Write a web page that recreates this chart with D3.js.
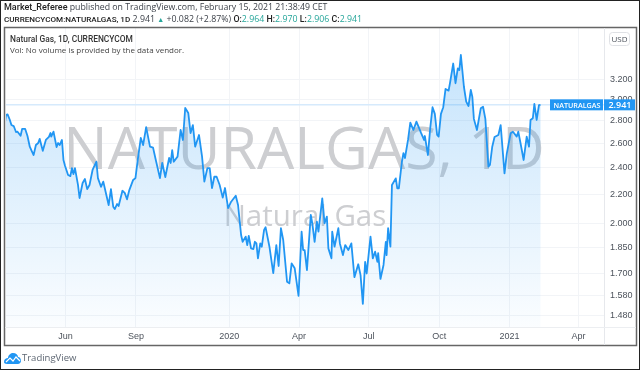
<!DOCTYPE html>
<html>
<head>
<meta charset="utf-8">
<script src="https://cdn.jsdelivr.net/npm/d3@7"></script>
<style>
    html, body { margin: 0; padding: 0; background: #fff; }
    svg { display: block; font-family: "Open Sans", sans-serif; filter: blur(0.4px); }
    .head-bold { font-family: Roboto, sans-serif; font-weight: 500; }
</style>
</head>
<body>
<div id="chart"></div>
<script>
// days since the first bar
const firstBar = '2019-03-14';
const dayOffsets = [0,2,4,7,9,12,15,17,21,23,27,30,33,35,38,41,44,46,48,50,54,58,60,61,64,68,70,72,75,77,79,83,86,88,90,92,96,98,102,105,108,111,115,120,122,126,129,133,136,139,142,144,147,149,154,157,160,163,168,171,174,178,181,185,190,194,197,203,206,210,215,217,219,221,226,230,233,236,240,243,246,249,254,258,261,265,268,271,274,277,281,285,288,292,296,302,305,309,311,315,317,319,322,325,327,329,331,334,336,339,341,346,351,355,358,361,364,369,372,375,379,384,388,390,392,395,400,402,405,408,410,415,418,421,423,427,428,431,436,438,442,445,449,453,457,462,465,468,471,473,478,481,484,487,488,491,495,498,499,501,504,506,511,513,515,519,521,523,527,530,534,538,544,548,549,553,556,559,562,565,567,570,573,576,580,582,586,589,592,594,596,600,603,606,609,611,613,617,622,625,628,632,634,637,640,645,648,653,656,661,664,669,671,674,678,682,685,687,690,692,695,698,700];
const closes = [2.744,2.845,2.851,2.799,2.753,2.744,2.691,2.694,2.659,2.718,2.718,2.656,2.565,2.537,2.496,2.579,2.596,2.631,2.579,2.531,2.622,2.648,2.682,2.651,2.694,2.562,2.596,2.579,2.622,2.456,2.410,2.338,2.330,2.392,2.345,2.392,2.263,2.169,2.278,2.308,2.233,2.263,2.377,2.442,2.315,2.250,2.288,2.190,2.120,2.233,2.108,2.092,2.127,2.113,2.221,2.206,2.160,2.226,2.301,2.315,2.456,2.639,2.579,2.735,2.565,2.557,2.472,2.315,2.432,2.323,2.472,2.432,2.537,2.442,2.483,2.709,2.622,2.911,2.864,2.682,2.753,2.565,2.665,2.483,2.288,2.392,2.392,2.241,2.325,2.325,2.263,2.172,2.241,2.099,2.143,2.185,2.120,1.922,1.880,1.912,1.860,1.916,1.840,1.836,1.880,1.870,1.781,1.870,1.850,1.954,1.971,1.850,1.697,1.860,1.737,1.965,1.891,1.650,1.641,1.752,1.724,1.575,1.943,1.830,1.830,1.714,2.052,1.997,1.880,2.008,1.943,2.167,1.997,2.041,1.840,1.781,1.943,1.850,1.965,1.870,1.800,1.860,1.830,1.870,1.675,1.747,1.686,1.535,1.761,1.695,1.912,1.781,1.820,1.761,1.812,1.665,1.743,1.880,1.800,1.965,1.850,2.263,2.313,2.238,2.238,2.442,2.512,2.472,2.622,2.775,2.709,2.784,2.683,2.622,2.656,2.496,2.726,2.918,2.855,2.665,2.651,2.855,2.918,3.098,3.081,3.166,3.366,3.156,3.313,3.295,3.461,3.120,2.972,2.930,3.087,3.018,2.809,2.709,2.908,2.923,2.809,2.403,2.416,2.565,2.648,2.665,2.753,2.351,2.507,2.680,2.694,2.651,2.694,2.592,2.456,2.651,2.565,2.799,2.815,2.949,2.799,2.939,2.941];

const priceTicks = [3.2, 3.0, 2.8, 2.6, 2.4, 2.2, 2.0, 1.85, 1.7, 1.58, 1.48];
const timeTickDates = ['2019-06-01', '2019-09-01', '2020-01-01', '2020-04-01', '2020-07-01', '2020-10-01', '2021-01-01', '2021-04-01'];
const timeTickLabels = ['Jun', 'Sep', '2020', 'Apr', 'Jul', 'Oct', '2021', 'Apr'];
const lastPrice = 2.941;
const ohlc = [['O:', '2.964'], ['H:', '2.970'], ['L:', '2.906'], ['C:', '2.941']];

const width = 640, height = 370;
const plot = { left: 6, right: 604, top: 28, bottom: 327, frameBottom: 345, frameRight: 636 };
const blue = '#2196f3', textCol = '#4d535c';

const svg = d3.select('#chart').append('svg')
    .attr('width', width).attr('height', height);

const defs = svg.append('defs');
const grad = defs.append('linearGradient')
    .attr('id', 'areaFill')
    .attr('gradientUnits', 'userSpaceOnUse')
    .attr('x1', 0).attr('x2', 0)
    .attr('y1', 55).attr('y2', plot.bottom);
grad.append('stop').attr('offset', 0).attr('stop-color', blue).attr('stop-opacity', 0.26);
grad.append('stop').attr('offset', 1).attr('stop-color', blue).attr('stop-opacity', 0.02);
defs.append('clipPath').attr('id', 'plotClip').append('rect')
    .attr('x', plot.left).attr('y', plot.top)
    .attr('width', plot.right - plot.left).attr('height', plot.bottom - plot.top);

const parseDay = d3.utcParse('%Y-%m-%d');
const tickDates = timeTickDates.map(parseDay);
const bars = dayOffsets.map((d, i) => ({
    date: d3.utcDay.offset(parseDay(firstBar), d),
    close: closes[i]
}));

const xScale = d3.scaleUtc()
    .domain([tickDates[0], tickDates[tickDates.length - 1]])
    .range([65, 578]);
const yScale = d3.scaleLog()
    .domain([3.2, 1.48])
    .range([79, 315]);

// outer picture border
svg.append('rect')
    .attr('x', 0.5).attr('y', 0.5)
    .attr('width', width - 1).attr('height', height - 1)
    .attr('fill', '#fff').attr('stroke', '#222');

// grid
const grid = svg.append('g').attr('stroke', '#f2f4f7').attr('stroke-width', 1);
grid.selectAll('.hgrid').data(priceTicks).join('line')
    .attr('class', 'hgrid')
    .attr('x1', plot.left).attr('x2', plot.right)
    .attr('y1', d => Math.round(yScale(d)) + 0.5).attr('y2', d => Math.round(yScale(d)) + 0.5);
grid.selectAll('.vgrid').data(tickDates).join('line')
    .attr('class', 'vgrid')
    .attr('y1', plot.top).attr('y2', plot.bottom)
    .attr('x1', d => Math.round(xScale(d)) + 0.5).attr('x2', d => Math.round(xScale(d)) + 0.5);

// watermark
svg.append('text')
    .attr('x', 304).attr('y', 169)
    .attr('text-anchor', 'middle')
    .attr('font-size', 59)
    .attr('fill', '#cdced1')
    .text('NATURALGAS, 1D');
svg.append('text')
    .attr('x', 305).attr('y', 226)
    .attr('text-anchor', 'middle')
    .attr('font-size', 29.5)
    .attr('fill', '#cdced1')
    .text('Natural Gas');

// last price line
svg.append('line')
    .attr('x1', plot.left).attr('x2', plot.right)
    .attr('y1', yScale(lastPrice)).attr('y2', yScale(lastPrice))
    .attr('stroke', '#d6eafc').attr('stroke-width', 1.5);

const chartG = svg.append('g').attr('clip-path', 'url(#plotClip)');
chartG.append('path').datum(bars)
    .attr('fill', 'url(#areaFill)')
    .attr('d', d3.area().x(d => xScale(d.date)).y0(plot.bottom).y1(d => yScale(d.close)));
chartG.append('path').datum(bars)
    .attr('fill', 'none')
    .attr('stroke', blue)
    .attr('stroke-width', 1.8)
    .attr('stroke-linejoin', 'round')
    .attr('d', d3.line().x(d => xScale(d.date)).y(d => yScale(d.close)));

// frame
svg.append('rect')
    .attr('x', 4.5).attr('y', 27.5)
    .attr('width', plot.frameRight - 4).attr('height', plot.frameBottom - 27)
    .attr('fill', 'none').attr('stroke', '#666').attr('stroke-width', 1.5);
svg.append('line')
    .attr('x1', plot.right + 0.5).attr('x2', plot.right + 0.5)
    .attr('y1', 28).attr('y2', plot.frameBottom)
    .attr('stroke', '#e6e8ec');
svg.append('line')
    .attr('x1', 5).attr('x2', plot.frameRight)
    .attr('y1', plot.bottom + 0.5).attr('y2', plot.bottom + 0.5)
    .attr('stroke', '#eceef1');

// axes
const yAxis = d3.axisRight(yScale)
    .tickValues(priceTicks)
    .tickFormat(d3.format('.3f'))
    .tickSize(0)
    .tickPadding(6);
const yG = svg.append('g')
    .attr('transform', `translate(${plot.right},0)`)
    .call(yAxis);
yG.select('.domain').remove();
yG.selectAll('text').attr('font-size', 9).attr('fill', textCol).style('font-family', 'inherit');

const xAxis = d3.axisBottom(xScale)
    .tickValues(tickDates)
    .tickFormat((d, i) => timeTickLabels[i])
    .tickSize(0)
    .tickPadding(6);
const xG = svg.append('g')
    .attr('transform', `translate(0,${plot.bottom})`)
    .call(xAxis);
xG.select('.domain').remove();
xG.selectAll('text').attr('font-size', 9).attr('fill', textCol).style('font-family', 'inherit');

// last price tags
const lastY = yScale(lastPrice);
svg.append('rect')
    .attr('x', 550).attr('y', lastY - 5.5).attr('width', 53).attr('height', 11)
    .attr('fill', blue);
svg.append('rect')
    .attr('x', 604).attr('y', lastY - 5.5).attr('width', 31).attr('height', 11)
    .attr('fill', blue);
svg.append('text')
    .attr('x', 577).attr('y', lastY + 2.8)
    .attr('text-anchor', 'middle').attr('font-size', 7.2).attr('font-weight', 600).attr('fill', '#fff')
    .text('NATURALGAS');
svg.append('text')
    .attr('x', 620).attr('y', lastY + 3)
    .attr('text-anchor', 'middle').attr('font-size', 9).attr('font-weight', 600).attr('fill', '#fff')
    .text('2.941');

// USD button
svg.append('rect')
    .attr('x', 609.5).attr('y', 32.5).attr('width', 20).attr('height', 13).attr('rx', 3)
    .attr('fill', '#fff').attr('stroke', '#dfe1e5');
svg.append('text')
    .attr('x', 619.5).attr('y', 42)
    .attr('text-anchor', 'middle').attr('font-size', 8).attr('fill', textCol)
    .text('USD');

// header lines
const head1 = svg.append('text').attr('x', 4).attr('y', 10).attr('font-size', 8.75).attr('fill', '#3a3f47');
head1.append('tspan').attr('class', 'head-bold').attr('font-size', 9).attr('fill', '#222').text('Market_Referee');
head1.append('tspan').text(' published on TradingView.com, February 15, 2021 21:38:49 CET');

const green = '#26a69a';
const head2 = svg.append('text').attr('x', 4).attr('y', 22).attr('font-size', 8.8).attr('fill', '#3a3f47');
head2.append('tspan').attr('class', 'head-bold').attr('font-size', 8.1).attr('fill', '#222').text('CURRENCYCOM:NATURALGAS, 1D');
head2.append('tspan').text(' 2.941 ');
head2.append('tspan').attr('fill', green).attr('font-size', 7).text('▲');
head2.append('tspan').text(' +0.082 (+2.87%) ');
ohlc.forEach(([k, v]) => {
    head2.append('tspan').attr('class', 'head-bold').attr('fill', '#222').text(k);
    head2.append('tspan').attr('fill', green).text(v + ' ');
});

// legend in the plot
svg.append('text').attr('x', 10).attr('y', 42)
    .attr('class', 'head-bold')
    .attr('font-size', 8.4).attr('fill', '#333')
    .text('Natural Gas, 1D, CURRENCYCOM');
svg.append('text').attr('x', 10).attr('y', 53)
    .attr('font-size', 8).attr('fill', '#444')
    .text('Vol: No volume is provided by the data vendor.');

// TradingView logo
const logo = svg.append('g').attr('transform', 'translate(4,352)');
logo.append('path')
    .attr('d', 'M0 10 C0 7 2 6 4 6 C4 3 7 1 9 1 C12 1 14 3 14 5 C16 5 17 7 17 9 C17 11 15 12 14 12 L3 12 C1 12 0 11 0 10 Z')
    .attr('fill', blue);
logo.append('path')
    .attr('d', 'M2 10 L6 6 L9 9 L12 5 L16 9')
    .attr('fill', 'none').attr('stroke', '#fff').attr('stroke-width', 1.2);
svg.append('text').attr('x', 22).attr('y', 361)
    .attr('font-size', 9.5).attr('fill', '#5d6672')
    .text('TradingView');
</script>
</body>
</html>
